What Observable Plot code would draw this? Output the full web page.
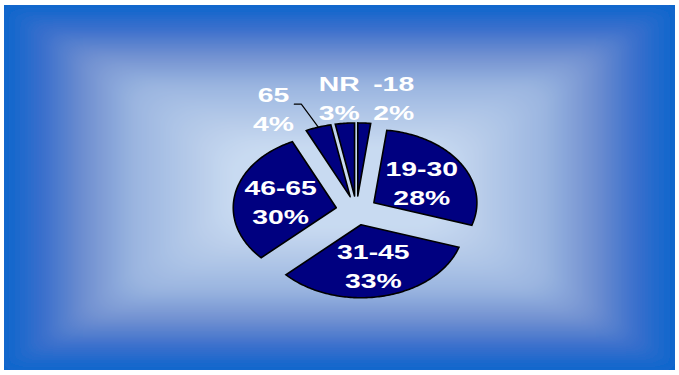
<!DOCTYPE html>
<html><head><meta charset="utf-8">
<script src="https://cdn.jsdelivr.net/npm/d3@7"></script>
<script src="https://cdn.jsdelivr.net/npm/@observablehq/plot@0.6"></script>
<style>
html,body{margin:0;padding:0;background:#fff;}
#chart{width:679px;height:375px;overflow:hidden;}
</style></head><body><div id="chart"></div>
<script>
// ---- data ----
const categories = ["-18", "19-30", "31-45", "46-65", "65", "NR"];
const shares = [2, 28, 33, 30, 4, 3];
const outsideCats = ["-18", "65", "NR"];

// ---- geometry (styling) ----
const W = 679, H = 375;
const cxPx = 356, cyPx = 210, rxPx = 103, ryPx = 73;
const explode = 0.2;
const sliceFill = "#000080";

const arcs = d3.pie().sort(null).value(d => d.share)(
  categories.map((c, i) => ({cat: c, share: shares[i]}))
);

const pts = [];
const labelData = [];
let leader = [];
arcs.forEach(a => {
  const mid = (a.startAngle + a.endAngle) / 2;
  const ox = explode * Math.sin(mid), oy = explode * Math.cos(mid);
  const cat = a.data.cat;
  pts.push({cat, x: ox, y: oy});
  const n = Math.max(2, Math.ceil((a.endAngle - a.startAngle) / (Math.PI / 180)));
  for (let k = 0; k <= n; k++) {
    const t = a.startAngle + (a.endAngle - a.startAngle) * k / n;
    pts.push({cat, x: ox + Math.sin(t), y: oy + Math.cos(t)});
  }
  pts.push({cat, x: ox, y: oy});
  const outside = outsideCats.includes(cat);
  const k = outside ? 1.37 : 0.55;
  labelData.push({
    cat, outside,
    text: `${cat}\n${a.data.share}%`,
    x: ox + k * Math.sin(mid),
    y: oy + k * Math.cos(mid)
  });
  if (cat === "65") {
    const ex = ox + Math.sin(mid), ey = oy + Math.cos(mid);
    const kx = ex - 17 / rxPx, ky = ey + 23 / ryPx;
    leader = [{x: ex, y: ey}, {x: kx, y: ky}, {x: kx - 7 / rxPx, y: ky}];
  }
});

const font = "'Liberation Sans', Arial, Helvetica, sans-serif";
const textOpts = {x: "x", y: "y", text: "text", fill: "white", fontSize: 21,
  fontWeight: "bold", fontFamily: font, lineHeight: 1.38, textAnchor: "middle"};

const chart = Plot.plot({
  width: W, height: H,
  margin: 0, marginTop: 0, marginRight: 0, marginBottom: 0, marginLeft: 0,
  style: {background: "transparent", overflow: "visible"},
  x: {domain: [-cxPx / rxPx, (W - cxPx) / rxPx], range: [0, W], axis: null},
  y: {domain: [-(H - cyPx) / ryPx, cyPx / ryPx], range: [H, 0], axis: null},
  marks: [
    Plot.line(pts, {x: "x", y: "y", z: "cat", fill: sliceFill, stroke: "black",
      strokeWidth: 1.6, strokeLinejoin: "miter", strokeMiterlimit: 4, curve: "linear"}),
    Plot.line(leader, {x: "x", y: "y", stroke: "black", strokeWidth: 1.2, curve: "linear"}),
    Plot.text(labelData.filter(d => !d.outside), textOpts),
    Plot.text(labelData.filter(d => d.cat === "-18"), {...textOpts, dx: 27}),
    Plot.text(labelData.filter(d => d.cat === "NR"), {...textOpts, dx: -2}),
    Plot.text(labelData.filter(d => d.cat === "65"), {...textOpts, dx: -33, dy: 6})
  ]
});

// ---- background: rectangular gradient panel ----
const svg = d3.select(chart);
const ns = "http://www.w3.org/2000/svg";
const defs = svg.insert("defs", ":first-child");
defs.append("filter").attr("id", "bgblur").attr("x", "-10%").attr("y", "-10%")
  .attr("width", "120%").attr("height", "120%")
  .append("feGaussianBlur").attr("stdDeviation", 4);
const px0 = 4, px1 = 675, py0 = 5, py1 = 370;
defs.append("clipPath").attr("id", "panelclip").append("rect")
  .attr("x", px0).attr("y", py0).attr("width", px1 - px0).attr("height", py1 - py0);
const ramp = d3.scaleLinear()
  .domain([0, 0.16, 0.34, 0.56, 0.85, 1])
  .range(["#1166cc", "#3a6fcc", "#6f8fd0", "#9ab5e0", "#b9cdea", "#c8daf1"])
  .interpolate(d3.interpolateRgb);
const bg = svg.insert("g", "defs + *").attr("clip-path", "url(#panelclip)");
bg.append("rect").attr("x", px0).attr("y", py0).attr("width", px1 - px0)
  .attr("height", py1 - py0).attr("fill", ramp(0));
const inner = bg.append("g").attr("filter", "url(#bgblur)");
const spanX = 226, spanY = 140, N = 40;
for (let i = 0; i <= N; i++) {
  const t = i / N;
  inner.append("rect")
    .attr("x", px0 + t * spanX).attr("y", py0 + t * spanY)
    .attr("width", (px1 - px0) - 2 * t * spanX)
    .attr("height", (py1 - py0) - 2 * t * spanY)
    .attr("rx", 10 + 30 * t).attr("ry", 8 + 20 * t)
    .attr("fill", ramp(t));
}

// horizontally stretched label text, as in the reference
svg.selectAll("text").each(function() {
  const tr = this.getAttribute("transform");
  if (tr && tr.includes("translate")) {
    this.setAttribute("transform", tr + " scale(1.35,1)");
  } else {
    const X = +this.getAttribute("x") || 0;
    this.setAttribute("transform", `translate(${X},0) scale(1.35,1) translate(${-X},0)`);
  }
});

document.getElementById("chart").appendChild(chart);
</script>
</body></html>
